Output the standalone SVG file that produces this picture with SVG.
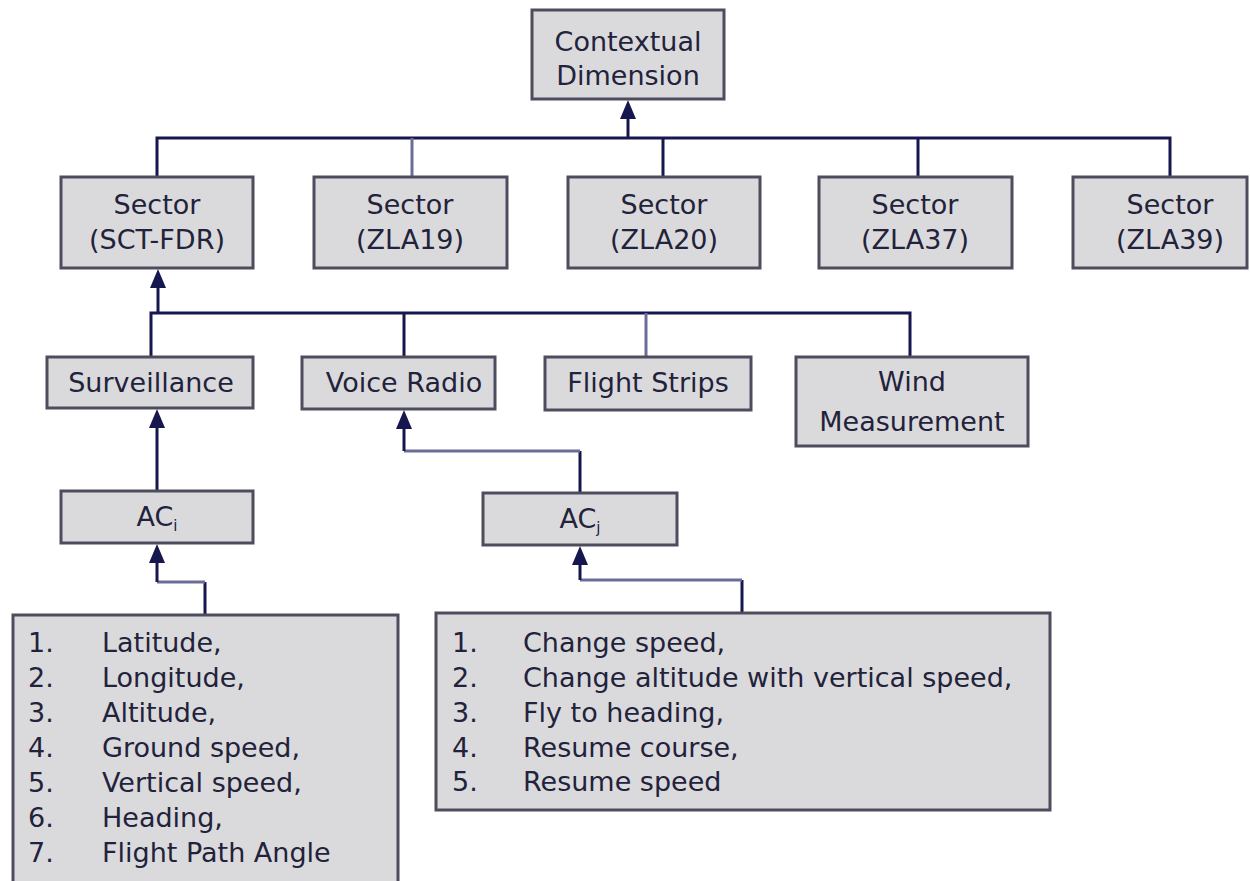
<svg xmlns="http://www.w3.org/2000/svg" width="1250" height="881" viewBox="0 0 1250 881">
<style>
.box{fill:#dadadd;stroke:#4d4d5e;stroke-width:3}
.t{font-family:"DejaVu Sans",Verdana,sans-serif;font-size:27px;fill:#22223a}
.c{text-anchor:middle}
.ln{fill:none;stroke:#17174f;stroke-width:3}
.lt{fill:none;stroke:#6c6c98;stroke-width:3}
.ah{fill:#17174f}
</style>
<rect width="1250" height="881" fill="#ffffff"/>

<g id="connectors">
  <path class="ln" d="M157,177 V138 H1170 V177"/>
  <path class="lt" d="M412,138 V177"/>
  <path class="ln" d="M663,138 V177"/>
  <path class="ln" d="M918,138 V177"/>
  <path class="ln" d="M628,138 V118"/>
  <path class="ah" d="M628,100 L636,119 L620,119 Z"/>

  <path class="ln" d="M151,357 V313 H910 V357"/>
  <path class="ln" d="M404,313 V357"/>
  <path class="lt" d="M646,313 V357"/>
  <path class="ln" d="M158,313 V286"/>
  <path class="ah" d="M158,269 L166,288 L150,288 Z"/>

  <path class="ln" d="M157,491 V426"/>
  <path class="ah" d="M157,409 L165,428 L149,428 Z"/>

  <path class="ln" d="M205,615 V582"/>
  <path class="lt" d="M157,582 H205"/>
  <path class="ln" d="M157,582 V562"/>
  <path class="ah" d="M157,544 L165,563 L149,563 Z"/>

  <path class="ln" d="M580,493 V451"/>
  <path class="lt" d="M580,451 H404"/>
  <path class="ln" d="M404,451 V427"/>
  <path class="ah" d="M404,410 L412,429 L396,429 Z"/>

  <path class="ln" d="M742,613 V580"/>
  <path class="lt" d="M742,580 H580"/>
  <path class="ln" d="M580,580 V564"/>
  <path class="ah" d="M580,546 L588,565 L572,565 Z"/>
</g>

<g id="contextual-dimension">
  <rect class="box" x="532" y="10" width="192" height="89"/>
  <text class="t c" x="628" y="51">Contextual</text>
  <text class="t c" x="628" y="85">Dimension</text>
</g>

<g id="sector-sct-fdr">
  <rect class="box" x="61" y="177" width="192" height="91"/>
  <text class="t c" x="157" y="214">Sector</text>
  <text class="t c" x="157" y="249">(SCT-FDR)</text>
</g>
<g id="sector-zla19">
  <rect class="box" x="314" y="177" width="193" height="91"/>
  <text class="t c" x="410" y="214">Sector</text>
  <text class="t c" x="410" y="249">(ZLA19)</text>
</g>
<g id="sector-zla20">
  <rect class="box" x="568" y="177" width="192" height="91"/>
  <text class="t c" x="664" y="214">Sector</text>
  <text class="t c" x="664" y="249">(ZLA20)</text>
</g>
<g id="sector-zla37">
  <rect class="box" x="819" y="177" width="193" height="91"/>
  <text class="t c" x="915" y="214">Sector</text>
  <text class="t c" x="915" y="249">(ZLA37)</text>
</g>
<g id="sector-zla39">
  <rect class="box" x="1073" y="177" width="174" height="91"/>
  <text class="t c" x="1170" y="214">Sector</text>
  <text class="t c" x="1170" y="249">(ZLA39)</text>
</g>

<g id="surveillance">
  <rect class="box" x="47" y="357" width="206" height="51"/>
  <text class="t c" x="151" y="392">Surveillance</text>
</g>
<g id="voice-radio">
  <rect class="box" x="302" y="357" width="193" height="52"/>
  <text class="t c" x="404" y="392">Voice Radio</text>
</g>
<g id="flight-strips">
  <rect class="box" x="545" y="357" width="206" height="53"/>
  <text class="t c" x="648" y="392">Flight Strips</text>
</g>
<g id="wind-measurement">
  <rect class="box" x="796" y="357" width="232" height="89"/>
  <text class="t c" x="912" y="391">Wind</text>
  <text class="t c" x="912" y="431">Measurement</text>
</g>

<g id="ac-i">
  <rect class="box" x="61" y="491" width="192" height="52"/>
  <text class="t c" x="157" y="526">AC<tspan font-size="15" dy="5">i</tspan></text>
</g>
<g id="ac-j">
  <rect class="box" x="483" y="493" width="194" height="52"/>
  <text class="t c" x="580" y="528">AC<tspan font-size="15" dy="5">j</tspan></text>
</g>

<g id="aircraft-state-list">
  <rect class="box" x="13" y="615" width="385" height="280"/>
  <text class="t" x="28" y="652">1.</text><text class="t" x="102" y="652">Latitude,</text>
  <text class="t" x="28" y="687">2.</text><text class="t" x="102" y="687">Longitude,</text>
  <text class="t" x="28" y="722">3.</text><text class="t" x="102" y="722">Altitude,</text>
  <text class="t" x="28" y="757">4.</text><text class="t" x="102" y="757">Ground speed,</text>
  <text class="t" x="28" y="792">5.</text><text class="t" x="102" y="792">Vertical speed,</text>
  <text class="t" x="28" y="827">6.</text><text class="t" x="102" y="827">Heading,</text>
  <text class="t" x="28" y="862">7.</text><text class="t" x="102" y="862">Flight Path Angle</text>
</g>

<g id="clearance-list">
  <rect class="box" x="436" y="613" width="614" height="197"/>
  <text class="t" x="452" y="652">1.</text><text class="t" x="523" y="652">Change speed,</text>
  <text class="t" x="452" y="687">2.</text><text class="t" x="523" y="687">Change altitude with vertical speed,</text>
  <text class="t" x="452" y="722">3.</text><text class="t" x="523" y="722">Fly to heading,</text>
  <text class="t" x="452" y="757">4.</text><text class="t" x="523" y="757">Resume course,</text>
  <text class="t" x="452" y="791">5.</text><text class="t" x="523" y="791">Resume speed</text>
</g>
</svg>
